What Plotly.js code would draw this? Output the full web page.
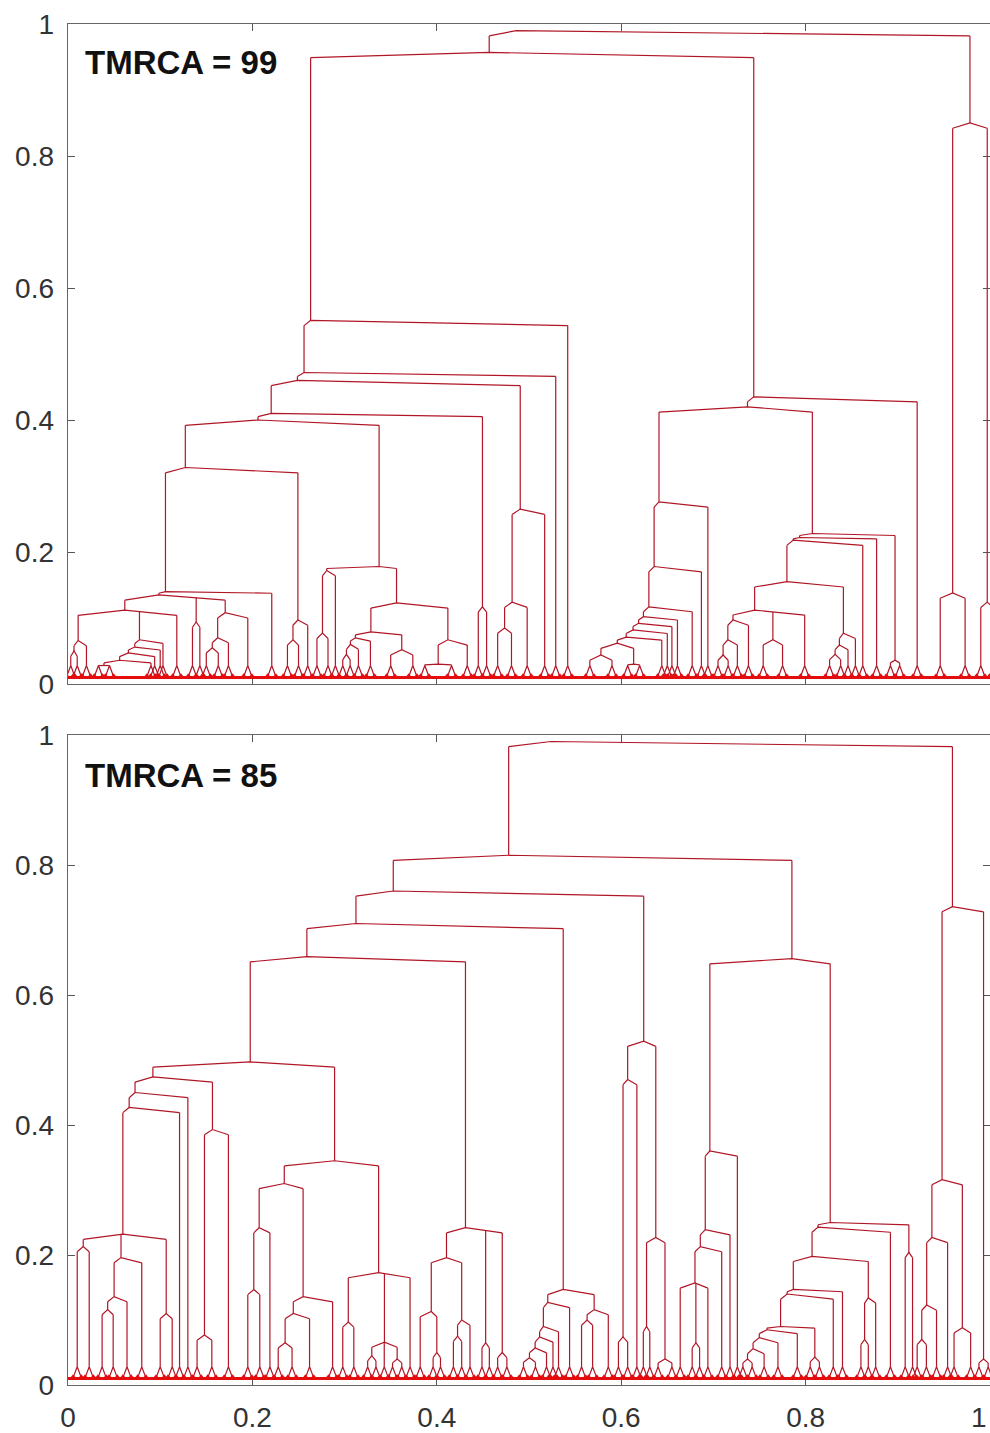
<!DOCTYPE html>
<html><head><meta charset="utf-8">
<script src="https://cdn.plot.ly/plotly-3.0.1.min.js"></script>
<style>html,body{margin:0;padding:0;background:#fff;}#chart{width:990px;height:1433px;}</style>
</head><body><div id="chart"></div>
<script>
// Tree notation: [mergeHeight, child, child, ...]; a bare number is a terminal lineage at that x.
// ---------- top panel (TMRCA = 99) ----------
const topLabel = 'TMRCA = 99';
const tA1 = [0.066, [0.05, 0.003, 0.010], 0.020];
const tLadder = [0.067, [0.056, [0.047, [0.036, [0.028, 0.033, 0.045], 0.090], 0.094], 0.100], 0.103];
const tNp = [0.112, tA1, tLadder, 0.118];
const tM = [0.135, tNp, [0.094, 0.135, 0.143], [0.108, [0.07, [0.055, 0.150, 0.163], 0.174], 0.195]];
const tH = [0.328, [0.14, tM, 0.221], [0.097, [0.067, 0.238, 0.250], 0.260]];
const tI = [0.178, [0.172, [0.077, 0.270, 0.282], 0.290],
  [0.123, [0.079, [0.07, [0.06, [0.045, 0.298, 0.306], 0.315], 0.328], [0.052, 0.350, 0.374]],
          [0.067, [0.03, 0.387, 0.416], 0.433]]];
const tF = [0.41, [0.40, tH, tI], [0.117, 0.445, 0.454]];
const tN26 = [0.265, [0.124, [0.085, 0.466, 0.481], 0.498], 0.517];
const tD = [0.551, [0.472, [0.46, tF, tN26], 0.529], 0.542];
const tR = [0.276, [0.178, [0.117, [0.102, [0.092, [0.082, [0.071, [0.062, [0.044, 0.566, 0.590], [0.03, 0.607, 0.620]], 0.644], 0.650], 0.655], 0.661], 0.677], 0.687], 0.694];
const tS4 = [0.112, [0.097, [0.067, [0.044, 0.705, 0.716], 0.726], 0.738], [0.067, 0.754, 0.775], 0.799];
const tS3r = [0.077, [0.059, [0.045, 0.826, 0.838], 0.846], 0.854];
const tS = [0.228, [0.222, [0.218, [0.155, tS4, tS3r], 0.862], 0.877], [0.036, 0.892, 0.902]];
const tP = [0.435, [0.42, tR, tS], 0.921];
const tC = [0.85, [0.138, 0.946, 0.973], [0.124, 0.990, 1.004]];
const topTree = [0.99, [0.957, tD, tP], tC];

// ---------- bottom panel (TMRCA = 85) ----------
const bottomLabel = 'TMRCA = 85';
const bZ4 = [0.232, [0.213, 0.010, 0.023], [0.196, [0.136, [0.116, 0.037, 0.049], 0.064], 0.080], [0.11, 0.100, 0.113]];
const bZ1 = [0.474, [0.45, [0.427, bZ4, 0.121], 0.130], [0.393, [0.077, 0.140, 0.156], 0.174]];
const bY = [0.345, [0.31, [0.242, [0.147, 0.195, 0.208], 0.219], [0.136, [0.11, [0.065, 0.228, 0.243], 0.262], 0.287]],
  [0.173, [0.097, 0.298, 0.310], [0.066, [0.045, 0.325, 0.334], 0.343, [0.04, 0.352, 0.362]], 0.371]];
const bW = [0.242, [0.196, [0.113, 0.382, [0.05, 0.396, 0.404]], [0.1, [0.075, 0.418, 0.427], 0.436]], [0.065, 0.449, 0.457], [0.05, 0.466, 0.476]];
const b151 = [0.147, [0.127, [0.09, [0.074, [0.057, [0.042, 0.494, 0.507], 0.519], 0.526], 0.532], 0.544], [0.116, [0.1, 0.557, 0.569], 0.586]];
const b529 = [0.529, [0.47, [0.074, 0.597, 0.607], 0.617], [0.227, [0.09, 0.624, 0.631], [0.04, 0.640, 0.655]]];
const b367 = [0.36, [0.239, [0.213, [0.157, 0.664, [0.065, 0.677, 0.685], 0.694], 0.709], 0.718], 0.726];
const bNc = [0.09, [0.085, [0.073, [0.056, [0.04, 0.732, 0.742], 0.755], 0.770], 0.791], [0.043, 0.805, 0.815]];
const b252 = [0.25, [0.243, [0.198, [0.147, [0.14, bNc, 0.830], 0.840], [0.134, [0.07, 0.860, 0.868], 0.876]], 0.892], [0.204, 0.908, 0.916]];
const b736 = [0.736, [0.316, [0.227, [0.123, [0.07, 0.921, 0.931], 0.942], 0.954], [0.088, 0.961, 0.979]], [0.04, 0.988, 0.998]];
const bottomTree = [0.99, [0.815, [0.76, [0.71, [0.659, [0.497, bZ1, bY], bW], b151], b529], [0.656, b367, b252]], b736];

const tickVals = [0, 0.2, 0.4, 0.6, 0.8, 1];
const xTickText = ['0', '0.2', '0.4', '0.6', '0.8', ''];   // the final "1" is placed right-aligned at the edge
const xEdgeLabel = '1';

// ---------- drawing helpers ----------
const TIP_TOP = 0.028, TIP_FOOT = 0.011, TIP_HALF = 0.0045;
function build(tree) {
  const xs = [], ys = [], tx = [], ty = [];
  function lay(n) {
    if (typeof n === 'number') return {x: n, top: TIP_TOP, w: 1, leaf: true};
    const kids = n.slice(1).map(lay);
    const w = kids.reduce((s, k) => s + k.w, 0);
    const x = kids.reduce((s, k) => s + k.x * k.w, 0) / w;
    return {x, top: n[0], w, kids};
  }
  function draw(o) {
    if (o.leaf) {
      xs.push(o.x - TIP_HALF, o.x, o.x + TIP_HALF, null);
      ys.push(TIP_FOOT, TIP_TOP, TIP_FOOT, null);
      tx.push(o.x - TIP_HALF, o.x + TIP_HALF); ty.push(TIP_FOOT, TIP_FOOT);
      return;
    }
    const h = o.top;
    const maxKid = Math.max(...o.kids.map(k => k.top));
    const d = Math.min(0.008, 0.5 * (h - maxKid));
    const kx = o.kids.map(k => k.x);
    const xl = Math.min(...kx), xr = Math.max(...kx);
    const yAt = x => {
      if (x <= o.x) return o.x === xl ? h : h - d + d * (x - xl) / (o.x - xl);
      return xr === o.x ? h : h - d * (x - o.x) / (xr - o.x);
    };
    xs.push(xl, o.x, xr, null); ys.push(yAt(xl), h, yAt(xr), null);
    o.kids.forEach(k => {
      xs.push(k.x, k.x, null); ys.push(k.top, yAt(k.x), null);
      draw(k);
    });
  }
  draw(lay(tree));
  return {xs, ys, tx, ty};
}

const LINE = 'rgb(176,22,38)', TIP = 'rgb(228,12,12)';
const traces = [];
[[topTree, 'x', 'y'], [bottomTree, 'x2', 'y2']].forEach(([tree, xa, ya]) => {
  const g = build(tree);
  traces.push({type: 'scatter', mode: 'lines', x: g.xs, y: g.ys, xaxis: xa, yaxis: ya,
    line: {color: LINE, width: 1.2}, hoverinfo: 'skip'});
  traces.push({type: 'scatter', mode: 'markers', x: g.tx, y: g.ty, xaxis: xa, yaxis: ya,
    marker: {symbol: 'triangle-up', size: 7, color: TIP, line: {width: 0}}, hoverinfo: 'skip'});
});

const FONT = 'Liberation Sans, Arial, sans-serif';
const axisCommon = {
  range: [0, 1], tickvals: tickVals, ticks: 'inside', ticklen: 7, tickwidth: 1, tickcolor: '#555',
  showline: true, linecolor: '#666', linewidth: 1.4, mirror: 'ticks', showgrid: false, zeroline: false,
  tickfont: {family: FONT, size: 28, color: '#333'}, ticklabelstandoff: 7
};
const H = 1433;
const layout = {
  width: 990, height: H, margin: {l: 68, r: 0, t: 0, b: 0},
  paper_bgcolor: '#fff', plot_bgcolor: '#fff', showlegend: false,
  xaxis: Object.assign({}, axisCommon, {anchor: 'y', showticklabels: false, domain: [0, 1]}),
  yaxis: Object.assign({}, axisCommon, {anchor: 'x', domain: [1 - 684 / H, 1 - 24 / H]}),
  xaxis2: Object.assign({}, axisCommon, {anchor: 'y2', domain: [0, 1], ticktext: xTickText}),
  yaxis2: Object.assign({}, axisCommon, {anchor: 'x2', domain: [1 - 1385 / H, 1 - 735 / H]}),
  shapes: [
    {type: 'line', xref: 'x', yref: 'y', x0: 0, x1: 1, y0: 0.01, y1: 0.01, line: {color: TIP, width: 3}},
    {type: 'line', xref: 'x2', yref: 'y2', x0: 0, x1: 1, y0: 0.01, y1: 0.01, line: {color: TIP, width: 3}}
  ],
  annotations: [
    {text: '<b>' + topLabel + '</b>', xref: 'x domain', yref: 'y domain', x: 0.016, y: 0.942,
     xanchor: 'left', yanchor: 'middle', showarrow: false, font: {family: FONT, size: 33, color: '#111'}},
    {text: '<b>' + bottomLabel + '</b>', xref: 'x2 domain', yref: 'y2 domain', x: 0.016, y: 0.938,
     xanchor: 'left', yanchor: 'middle', showarrow: false, font: {family: FONT, size: 33, color: '#111'}},
    {text: xEdgeLabel, xref: 'paper', yref: 'paper', x: 1, y: 1 - 1417 / H, xanchor: 'right', yanchor: 'middle',
     showarrow: false, xshift: -1, font: {family: FONT, size: 28, color: '#333'}}
  ]
};
Plotly.newPlot('chart', traces, layout, {staticPlot: true, displayModeBar: false});
</script></body></html>
